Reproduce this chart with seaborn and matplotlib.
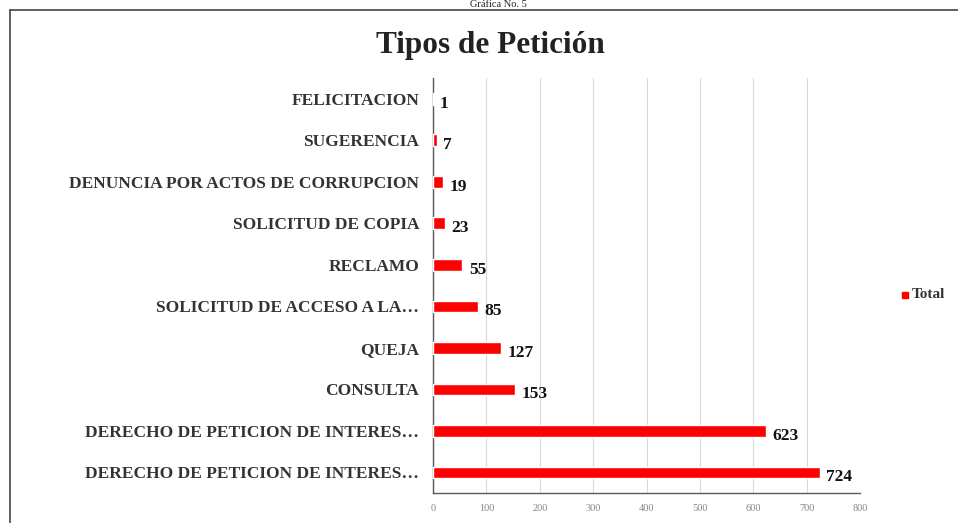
import pandas as pd
import matplotlib.pyplot as plt
import seaborn as sns
from matplotlib.lines import Line2D

# ---------- data ----------
categories = [
    "FELICITACION",
    "SUGERENCIA",
    "DENUNCIA POR ACTOS DE CORRUPCION",
    "SOLICITUD DE COPIA",
    "RECLAMO",
    "SOLICITUD DE ACCESO A LA\u2026",
    "QUEJA",
    "CONSULTA",
    "DERECHO DE PETICION DE INTERES\u2026",
    "DERECHO DE PETICION DE INTERES\u2026",
]
totals = [1, 7, 19, 23, 55, 85, 127, 153, 623, 724]
x_ticks = [0, 100, 200, 300, 400, 500, 600, 700, 800]

df = pd.DataFrame({"pos": range(len(categories)), "Total": totals})

sns.set_style("white")
plt.rcParams["font.family"] = ["Liberation Serif", "DejaVu Serif"]

fig = plt.figure(figsize=(9.58, 5.23), dpi=100)
ax = fig.add_axes([0.452, 0.057, 0.446, 0.794])

sns.barplot(data=df, y="pos", x="Total", orient="h", color="#ff0000",
            saturation=1, width=0.28, ax=ax, zorder=3)

# ---------- axes styling ----------
ax.set_xlim(0, 800)
ax.set_xticks(x_ticks)
ax.set_xticklabels([str(t) for t in x_ticks], fontsize=7.5, color="#888888")
ax.tick_params(axis="x", length=0, pad=8)
ax.set_yticks(range(len(categories)))
ax.set_yticklabels(categories, fontsize=12.5, fontweight="bold", color="#333333")
ax.tick_params(axis="y", length=0, pad=10)
ax.set_xlabel("")
ax.set_ylabel("")
ax.grid(axis="x", color="#d9d9d9", linewidth=0.8, zorder=0)
for side in ["top", "right"]:
    ax.spines[side].set_visible(False)
ax.spines["left"].set_color("#595959")
ax.spines["left"].set_linewidth(1.0)
ax.spines["bottom"].set_color("#595959")
ax.spines["bottom"].set_linewidth(1.0)

# value labels
for i, v in enumerate(totals):
    ax.text(v + 12, i + 0.12, str(v), va="center", ha="left",
            fontsize=12.5, fontweight="bold", color="#111111")

# ---------- title, legend, frame ----------
fig.text(0.512, 0.913, "Tipos de Petición", ha="center", va="center",
         fontsize=22.5, fontweight="bold", color="#222222")
fig.text(0.52, 1.0, "Gráfica No. 5", ha="center", va="top",
         fontsize=7.5, color="#222222")

fig.add_artist(Line2D([0.945], [0.436], marker="s", markersize=5,
                      color="#ff0000", transform=fig.transFigure))
fig.text(0.952, 0.436, "Total", ha="left", va="center",
         fontsize=11, fontweight="bold", color="#333333")

fig.add_artist(Line2D([0.0104, 1.0], [0.981, 0.981], color="#444444",
                      linewidth=1.2, transform=fig.transFigure))
fig.add_artist(Line2D([0.0104, 0.0104], [0.0, 0.981], color="#444444",
                      linewidth=1.2, transform=fig.transFigure))

fig.savefig("out.png", dpi=100)
